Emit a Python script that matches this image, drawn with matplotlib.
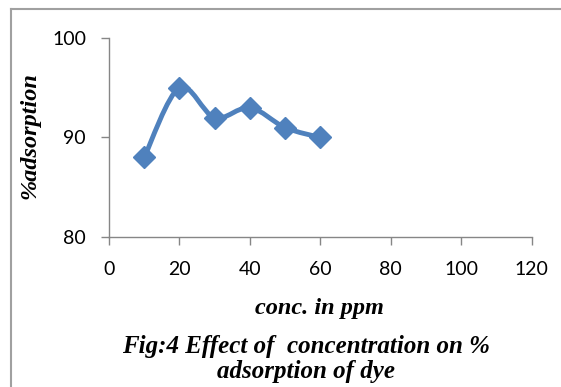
import numpy as np
import matplotlib
matplotlib.use("Agg")
import matplotlib.pyplot as plt
from matplotlib.path import Path
from matplotlib.patches import PathPatch
from matplotlib.lines import Line2D

conc = [10, 20, 30, 40, 50, 60]
adsorption = [88, 95, 92, 93, 91, 90]
xticks = [0, 20, 40, 60, 80, 100, 120]
yticks = [80, 90, 100]

LINE_COLOR = "#4F81BD"
AXIS_COLOR = "#868686"
TICK_FONT = "Lato"
SERIF = "Liberation Serif"
W, H = 561, 387

fig = plt.figure(figsize=(W / 100, H / 100), dpi=100)
ax = fig.add_axes([109 / W, 1 - 237 / H, (531.5 - 109) / W, (237 - 38) / H])

# Excel-style smoothed line (cubic Bezier through the data points)
pts = np.column_stack([conc, adsorption]).astype(float)
ext = np.vstack([pts[0], pts, pts[-1]])
verts = [tuple(pts[0])]
codes = [Path.MOVETO]
for i in range(1, len(ext) - 2):
    p0, p1, p2, p3 = ext[i - 1], ext[i], ext[i + 1], ext[i + 2]
    c1 = p1 + (p2 - p0) / 6.0
    c2 = p2 - (p3 - p1) / 6.0
    verts += [tuple(c1), tuple(c2), tuple(p2)]
    codes += [Path.CURVE4] * 3
ax.add_patch(PathPatch(Path(verts, codes), facecolor="none", edgecolor=LINE_COLOR,
                       lw=3.5, capstyle="round", joinstyle="round", zorder=2))
ax.plot(conc, adsorption, linestyle="none", marker="D", markersize=11,
        color=LINE_COLOR, zorder=3)

ax.set_xlim(0, 120)
ax.set_ylim(80, 100)
ax.set_xticks(xticks)
ax.set_yticks(yticks)
for s in ["top", "right"]:
    ax.spines[s].set_visible(False)
for s in ["left", "bottom"]:
    ax.spines[s].set_color(AXIS_COLOR)
    ax.spines[s].set_linewidth(1.0)
ax.tick_params(axis="both", direction="out", length=5.5, width=1.0, color=AXIS_COLOR,
               labelsize=14, labelcolor="black")
ax.tick_params(axis="x", pad=12)
ax.tick_params(axis="y", pad=11)
for lab in ax.get_xticklabels() + ax.get_yticklabels():
    lab.set_fontfamily(TICK_FONT)

txt = dict(fontfamily=SERIF, fontweight="bold", fontstyle="italic")
fig.text(319 / W, 1 - 314 / H, "conc. in ppm", ha="center", va="baseline",
         fontsize=17.5, **txt)
fig.text(30 / W, 1 - 136 / H, "%adsorption", ha="center", va="center", rotation=90,
         fontsize=17.5, **txt)
fig.text(306 / W, 1 - 353 / H, "Fig:4 Effect of  concentration on %", ha="center",
         va="baseline", fontsize=18, **txt)
fig.text(306 / W, 1 - 378 / H, "adsorption of dye", ha="center", va="baseline",
         fontsize=18, **txt)

# outer chart frame (left and top edges visible)
fig.add_artist(Line2D([11 / W, 11 / W], [0, 1 - 9 / H], color="#A0A0A0", lw=1.5,
                      transform=fig.transFigure))
fig.add_artist(Line2D([11 / W, 1], [1 - 9 / H, 1 - 9 / H], color="#A0A0A0", lw=1.5,
                      transform=fig.transFigure))

fig.savefig("out.png", dpi=100)
